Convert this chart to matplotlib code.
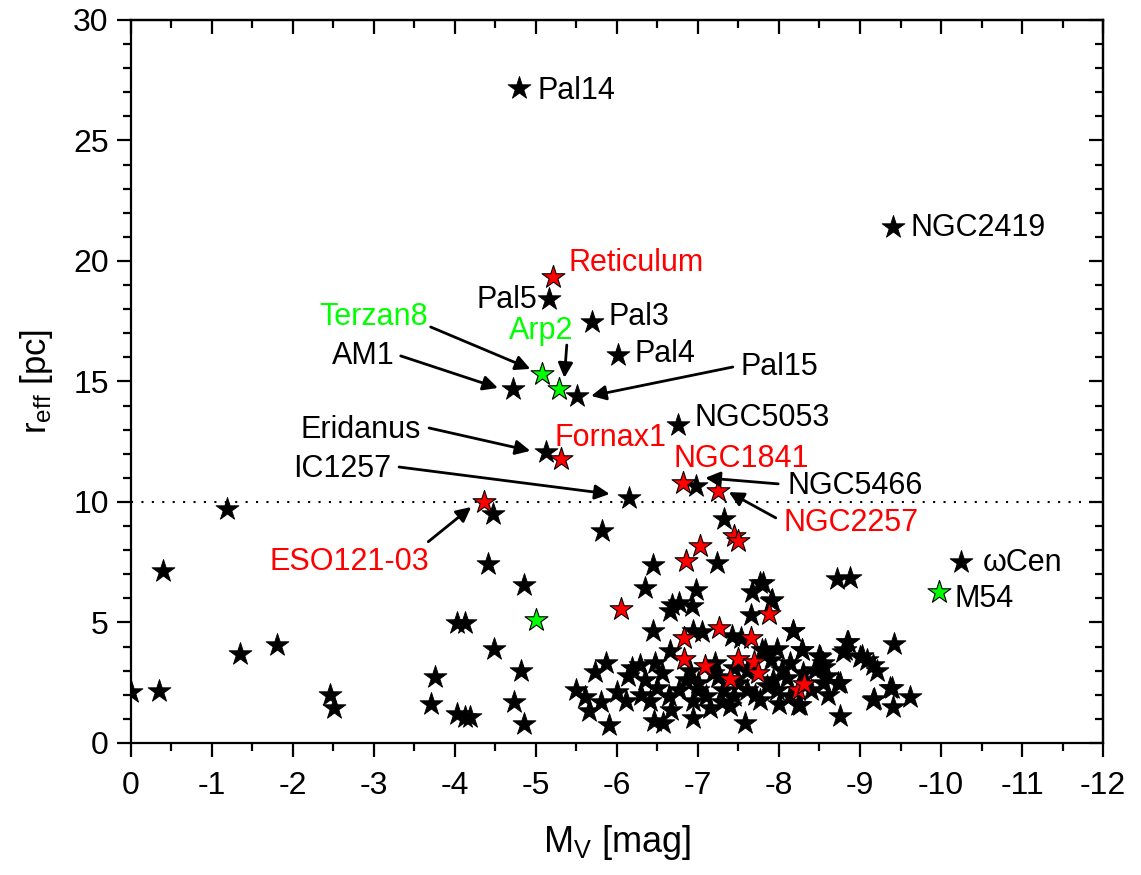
import matplotlib
matplotlib.use('Agg')
import matplotlib.pyplot as plt
from matplotlib.ticker import MultipleLocator

plt.rcParams['font.family'] = ['Liberation Sans', 'DejaVu Sans']
plt.rcParams['mathtext.fontset'] = 'custom'
plt.rcParams['mathtext.rm'] = 'Liberation Sans'
plt.rcParams['mathtext.it'] = 'Liberation Sans'
plt.rcParams['axes.unicode_minus'] = False

### data: M_V [mag], r_eff [pc]
black_mv = [-4.79, -9.41, -5.16, -5.69, -6.01, -4.72, -5.51, -6.75, -5.12, -6.98, -6.15, -10.25,
            0.0, -0.34, -0.39, -1.19, -1.34, -1.80, -2.46, -2.51, -3.70, -3.75, -4.03, -4.12,
            -4.02, -4.12, -4.19, -4.47, -4.41, -4.48, -4.85, -4.82, -4.73, -4.85,
            -5.81, -7.32, -7.23, -6.45, -6.35, -6.98, -7.76, -7.67, -7.90, -7.66, -6.68, -6.76,
            -6.92, -6.66, -8.71, -8.88,
            -6.44, -6.94, -7.05, -7.42, -7.53, -8.17, -7.83, -7.97, -8.29, -8.85, -8.81, -9.42,
            -6.66, -5.87, -5.73, -6.19, -6.14, -6.28, -6.47, -6.55, -6.35, -7.21, -7.19, -7.90,
            -8.04, -8.13, -8.49, -8.54, -8.45, -8.59, -8.75, -9.02, -9.09, -9.16, -9.21, -9.39,
            -9.17, -9.41, -9.62, -8.75, -5.50, -5.61, -5.80, -5.65, -5.90, -6.11, -6.41, -6.46,
            -6.57, -6.64, -6.67, -6.76, -6.94, -6.94, -7.10, -7.15, -7.31, -7.40, -7.44, -7.58,
            -7.60, -7.76, -7.85, -7.97, -8.13, -8.24, -8.40, -8.54, -7.92, -7.79, -8.28, -8.84,
            -8.79, -8.51, -8.55, -9.00, -8.73, -9.16, -9.37, -8.26, -7.80, -7.91, -8.17,
            -7.00, -7.25, -7.50, -7.60, -7.30, -7.00, -6.85, -8.10, -8.30, -6.50, -7.45, -8.00,
            -6.90, -6.30, -7.70, -8.60, -6.00]
black_reff = [27.18, 21.41, 18.42, 17.47, 16.10, 14.67, 14.41, 13.20, 12.06, 10.67, 10.17, 7.51,
              2.12, 2.14, 7.12, 9.72, 3.68, 4.05, 1.98, 1.45, 1.63, 2.74, 4.99, 4.99,
              1.22, 1.08, 1.08, 9.52, 7.44, 3.91, 6.57, 2.97, 1.70, 0.80,
              8.80, 9.29, 7.47, 7.37, 6.45, 6.36, 6.64, 6.25, 5.88, 5.32, 5.74, 5.81,
              5.67, 5.46, 6.80, 6.85,
              4.63, 4.63, 4.59, 4.43, 4.36, 4.63, 3.87, 3.90, 3.87, 4.18, 3.87, 4.12,
              3.80, 3.32, 2.93, 3.11, 2.77, 3.25, 3.32, 2.90, 2.63, 3.32, 2.90, 3.46,
              3.04, 3.32, 3.60, 3.32, 3.04, 2.77, 2.49, 3.60, 3.46, 3.25, 2.97, 2.28,
              1.83, 1.49, 1.91, 1.13, 2.19, 1.91, 1.69, 1.34, 0.76, 1.73, 1.73, 0.90,
              0.83, 1.94, 1.38, 2.21, 1.04, 1.73, 1.94, 1.45, 2.21, 1.52, 1.94, 0.83,
              2.21, 1.80, 2.35, 2.21, 1.94, 1.59, 2.21, 2.49, 2.63, 3.87, 3.86, 4.20,
              3.79, 3.58, 3.17, 3.58, 2.48, 1.78, 2.27, 1.58, 6.63, 5.93, 4.66,
              2.50, 2.75, 2.50, 3.00, 1.70, 2.20, 2.60, 2.70, 2.90, 2.30, 3.10, 1.60,
              3.00, 2.00, 2.00, 2.00, 2.10]

red_mv = [-5.21, -5.31, -6.81, -7.25, -4.36, -7.44, -7.49, -7.02, -6.85, -6.05, -7.88,
          -7.26, -6.83, -7.65, -6.83, -7.09, -7.50, -7.69, -7.74, -7.39, -8.24, -8.31]
red_reff = [19.32, 11.77, 10.78, 10.45, 9.99, 8.60, 8.37, 8.19, 7.57, 5.56, 5.37,
            4.77, 4.36, 4.36, 3.49, 3.18, 3.49, 3.35, 2.90, 2.66, 2.21, 2.45]

green_mv = [-5.07, -5.29, -5.00, -9.98]
green_reff = [15.30, 14.70, 5.12, 6.27]

# names written next to the points
label_text = ['Pal14', 'NGC2419', 'Reticulum', 'Pal5', 'Pal3', 'Pal4', 'Terzan8', 'Arp2',
              'AM1', 'Pal15', 'NGC5053', 'Eridanus', 'Fornax1', 'IC1257', 'NGC1841',
              'NGC5466', 'NGC2257', 'ESO121-03', 'ωCen', 'M54']
label_x = [-5.02, -9.62, -5.40, -5.01, -5.89, -6.21, -3.67, -5.06,
           -3.25, -7.53, -6.96, -3.58, -5.23, -3.21, -6.70,
           -8.11, -8.06, -2.70, -10.51, -10.17]
label_y = [27.05, 21.36, 19.91, 18.37, 17.67, 16.13, 17.67, 17.09,
           16.05, 15.59, 13.48, 12.98, 12.65, 11.36, 11.78,
           10.66, 9.12, 7.50, 7.46, 5.97]
label_color = ['k', 'k', 'red', 'k', 'k', 'k', 'lime', 'lime',
               'k', 'k', 'k', 'k', 'red', 'k', 'red',
               'k', 'red', 'red', 'k', 'k']
label_ha = ['left', 'left', 'left', 'right', 'left', 'left', 'right', 'center',
            'right', 'left', 'left', 'right', 'left', 'right', 'left',
            'left', 'left', 'center', 'left', 'left']

# arrows: tail -> head
arrow_tail = [(-3.70, 17.26), (-3.33, 16.06), (-5.38, 16.51), (-7.43, 15.60), (-3.68, 13.07),
              (-3.31, 11.45), (-7.99, 10.75), (-7.96, 9.34), (-3.67, 8.35)]
arrow_head = [(-4.93, 15.52), (-4.53, 14.73), (-5.35, 15.15), (-5.68, 14.40), (-4.93, 12.12),
              (-5.91, 10.33), (-7.09, 11.00), (-7.38, 10.41), (-4.20, 9.79)]


fig = plt.figure(figsize=(11.41, 8.75), dpi=100)
ax = fig.add_axes([0.1148, 0.1509, 0.8519, 0.8263])

ax.axhline(10, color='k', ls=(0, (1, 4)), lw=1.5, zorder=1)

ms = 300
ax.scatter(black_mv, black_reff, marker='*', s=ms, c='k', edgecolors='k', linewidths=0.6, zorder=2)
ax.scatter(red_mv, red_reff, marker='*', s=ms, c='red', edgecolors='k', linewidths=0.8, zorder=3)
ax.scatter(green_mv, green_reff, marker='*', s=ms, c='lime', edgecolors='k', linewidths=0.8, zorder=4)

for t, x, y, c, ha in zip(label_text, label_x, label_y, label_color, label_ha):
    ax.text(x, y, t, color=c, ha=ha, va='center', fontsize=22)

for tail, head in zip(arrow_tail, arrow_head):
    ax.annotate('', xy=head, xytext=tail,
                arrowprops=dict(arrowstyle='-|>', color='k', lw=2, mutation_scale=22,
                                shrinkA=0, shrinkB=0))

ax.set_xlim(0, -12)
ax.set_ylim(0, 30)
ax.xaxis.set_minor_locator(MultipleLocator(0.5))
ax.yaxis.set_major_locator(MultipleLocator(5))
ax.yaxis.set_minor_locator(MultipleLocator(1))
ax.set_xticks(range(0, -13, -1))
ax.set_xticklabels([str(v) for v in range(0, -13, -1)])

for s in ax.spines.values():
    s.set_linewidth(1.6)
ax.tick_params(which='both', width=1.6, labelsize=23)
ax.tick_params(which='major', length=10)
ax.tick_params(which='minor', length=5.5)
ax.tick_params(axis='x', which='both', direction='out', pad=10)
ax.tick_params(axis='y', which='both', direction='out', pad=6)

# mirror ticks on top/right pointing inwards
secx = ax.secondary_xaxis('top')
secx.xaxis.set_major_locator(MultipleLocator(1))
secx.xaxis.set_minor_locator(MultipleLocator(0.5))
secx.tick_params(which='both', direction='in', width=1.6, labeltop=False)
secx.tick_params(which='major', length=10)
secx.tick_params(which='minor', length=5.5)
secy = ax.secondary_yaxis('right')
secy.yaxis.set_major_locator(MultipleLocator(5))
secy.yaxis.set_minor_locator(MultipleLocator(1))
secy.tick_params(which='both', direction='in', width=1.6, labelright=False)
secy.tick_params(which='major', length=10)
secy.tick_params(which='minor', length=5.5)
secx.spines['top'].set_linewidth(1.6)
secy.spines['right'].set_linewidth(1.6)

ax.set_xlabel(r'M$_\mathregular{V}$ [mag]', fontsize=26, labelpad=16)
ax.set_ylabel(r'r$_\mathregular{eff}$ [pc]', fontsize=25, labelpad=13)

fig.savefig('out.png', dpi=100)
